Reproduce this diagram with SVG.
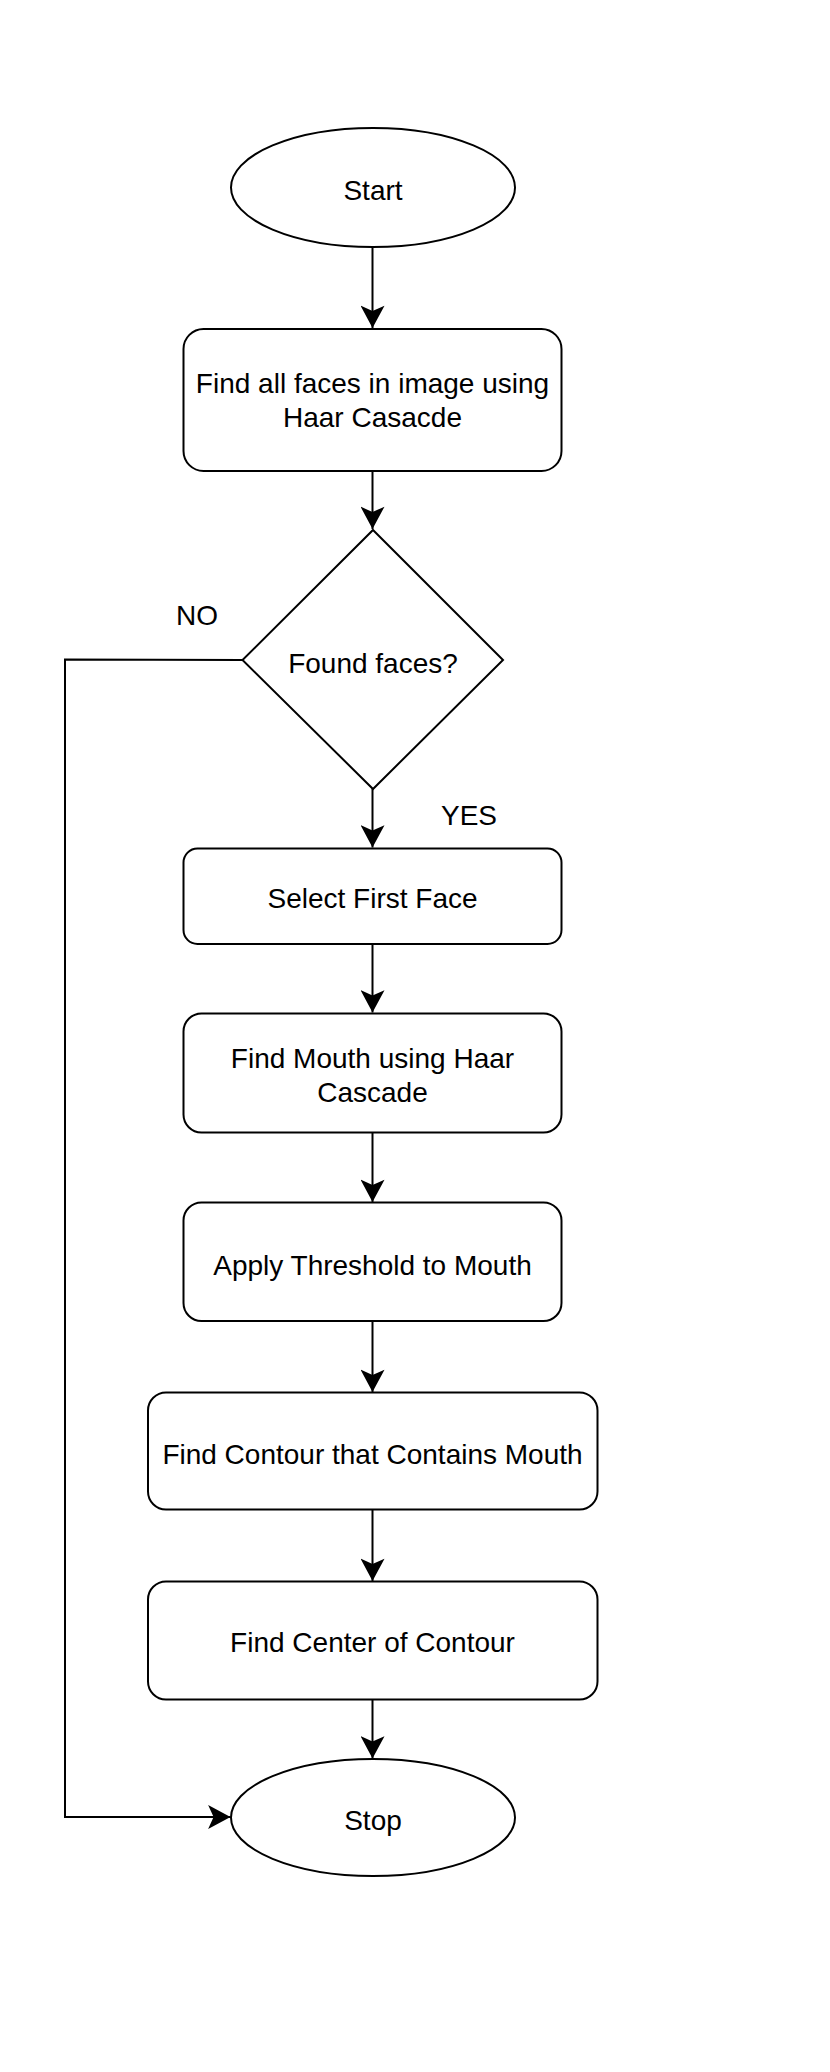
<svg xmlns="http://www.w3.org/2000/svg" width="830" height="2072" viewBox="0 0 830 2072">
<style>
.s{fill:#fff;stroke:#000;stroke-width:2}
.c{fill:none;stroke:#000;stroke-width:2}
.t{font-family:"Liberation Sans",Arial,sans-serif;font-size:28px;fill:#000;text-anchor:middle}
.l{font-family:"Liberation Sans",Arial,sans-serif;font-size:28px;fill:#000;text-anchor:middle}
</style>
<defs>
<marker id="arr" markerUnits="userSpaceOnUse" markerWidth="24" markerHeight="24" viewBox="0 0 21 22" refX="20.5" refY="11" orient="auto">
<path d="M0,0 L20.5,11 L0,22 L5,11 Z" fill="#000"/>
</marker>
</defs>
<rect width="830" height="2072" fill="#fff"/>
<g id="connectors">
<line class="c" x1="372.5" y1="247" x2="372.5" y2="328" marker-end="url(#arr)"/>
<line class="c" x1="372.5" y1="471" x2="372.5" y2="529" marker-end="url(#arr)"/>
<line class="c" x1="372.5" y1="788.5" x2="372.5" y2="847.5" marker-end="url(#arr)"/>
<line class="c" x1="372.5" y1="944" x2="372.5" y2="1012.5" marker-end="url(#arr)"/>
<line class="c" x1="372.5" y1="1132.5" x2="372.5" y2="1202" marker-end="url(#arr)"/>
<line class="c" x1="372.5" y1="1321" x2="372.5" y2="1392" marker-end="url(#arr)"/>
<line class="c" x1="372.5" y1="1509.5" x2="372.5" y2="1581" marker-end="url(#arr)"/>
<line class="c" x1="372.5" y1="1699.5" x2="372.5" y2="1758.5" marker-end="url(#arr)"/>
<polyline class="c" points="242.5,660 65,659.5 65,1817 230.5,1817" marker-end="url(#arr)"/>
<text class="l" x="197" y="625">NO</text>
<text class="l" x="469" y="825">YES</text>
</g>
<g id="start">
<ellipse class="s" cx="373" cy="187.5" rx="142" ry="59.5"/>
<text class="t" x="373" y="200">Start</text>
</g>
<g id="find-faces">
<rect class="s" x="183.5" y="329" width="378" height="142" rx="20"/>
<text class="t" x="372.5" y="393">Find all faces in image using</text>
<text class="t" x="372.5" y="427">Haar Casacde</text>
</g>
<g id="found-faces">
<polygon class="s" points="373,530 503,660 373,789 242.5,660"/>
<text class="t" x="373" y="673">Found faces?</text>
</g>
<g id="select-first-face">
<rect class="s" x="183.5" y="848.5" width="378" height="95.5" rx="14"/>
<text class="t" x="372.5" y="908">Select First Face</text>
</g>
<g id="find-mouth">
<rect class="s" x="183.5" y="1013.5" width="378" height="119" rx="18"/>
<text class="t" x="372.5" y="1068">Find Mouth using Haar</text>
<text class="t" x="372.5" y="1102">Cascade</text>
</g>
<g id="apply-threshold">
<rect class="s" x="183.5" y="1202.5" width="378" height="118.5" rx="18"/>
<text class="t" x="372.5" y="1275">Apply Threshold to Mouth</text>
</g>
<g id="find-contour">
<rect class="s" x="148" y="1392.5" width="449.5" height="117" rx="18"/>
<text class="t" x="372.5" y="1464">Find Contour that Contains Mouth</text>
</g>
<g id="find-center">
<rect class="s" x="148" y="1581.5" width="449.5" height="118" rx="18"/>
<text class="t" x="372.5" y="1652">Find Center of Contour</text>
</g>
<g id="stop">
<ellipse class="s" cx="373" cy="1817.5" rx="142" ry="58.5"/>
<text class="t" x="373" y="1830">Stop</text>
</g>
</svg>
